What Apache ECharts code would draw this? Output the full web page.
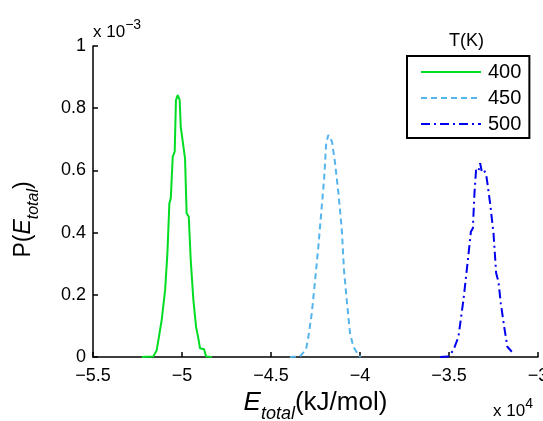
<!DOCTYPE html>
<html>
<head>
<meta charset="utf-8">
<script src="https://cdn.jsdelivr.net/npm/echarts@6/dist/echarts.min.js"></script>
<style>html,body{margin:0;padding:0;background:#fff;}#c{width:543px;height:421px;}</style>
</head>
<body>
<div id="c"></div>
<script>
// E_total in kJ/mol, P(E_total) in units of 10^-3
var e400 = [-52260,-51610,-51420,-51140,-50950,-50820,-50710,-50630,-50520,-50410,-50340,-50240,-50180,-50130,-50070,-49830,-49740,-49620,-49510,-49360,-49210,-49080,-48990,-48760,-48650,-48330];
var p400 = [0,0.002,0.022,0.119,0.215,0.333,0.494,0.510,0.644,0.660,0.826,0.842,0.848,0.826,0.740,0.639,0.462,0.451,0.312,0.183,0.097,0.060,0.028,0.025,0.002,0];
var e450 = [-43930,-43370,-43030,-42900,-42710,-42520,-42340,-42150,-42020,-41900,-41780,-41680,-41570,-41400,-41210,-41020,-40900,-40710,-40560,-40370,-40090,-39960];
var p450 = [0,0.002,0.025,0.065,0.140,0.248,0.355,0.483,0.569,0.687,0.714,0.719,0.692,0.623,0.526,0.408,0.280,0.162,0.076,0.033,0.006,0];
var e500 = [-35500,-35030,-34750,-34470,-34190,-33960,-33770,-33660,-33570,-33480,-33350,-33250,-33160,-33030,-32910,-32840,-32690,-32500,-32350,-32220,-32090,-31900,-31720,-31470];
var p500 = [0,0.002,0.022,0.065,0.183,0.301,0.403,0.414,0.526,0.601,0.596,0.623,0.596,0.601,0.585,0.558,0.494,0.398,0.269,0.242,0.173,0.097,0.033,0.017];
var temps = ['400','450','500'];
var xTicks = [-55000,-50000,-45000,-40000,-35000,-30000];
var yTicks = [0,0.2,0.4,0.6,0.8,1];

function pairs(xs, ys){ return xs.map(function(x,i){ return [x, ys[i]]; }); }
var FONT = 'Liberation Sans, Arial, sans-serif';
function minus(s){ return String(s).replace('-', '\u2212'); }

var chart = echarts.init(document.getElementById('c'), null, {renderer:'canvas'});
chart.setOption({
  animation: false,
  backgroundColor: '#fff',
  grid: {left: 93, right: 5, top: 46, bottom: 64, containLabel: false, outerBoundsMode: 'none'},
  xAxis: {
    type: 'value', min: xTicks[0], max: xTicks[xTicks.length-1], interval: 5000,
    axisLine: {show: true, lineStyle: {color: '#000', width: 1.5}},
    axisTick: {show: true, inside: true, length: 5, lineStyle: {color: '#000', width: 1.5}},
    splitLine: {show: false},
    axisLabel: {color: '#000', fontSize: 18, fontFamily: FONT, margin: 10, hideOverlap: false,
      formatter: function(v){ return minus(v/10000); }},
    name: '{e|E}{s|total}{n|(kJ/mol)}',
    nameLocation: 'middle', nameGap: 17,
    nameTextStyle: {
      fontFamily: FONT, color: '#000',
      rich: {
        e: {fontSize: 26, fontStyle: 'italic', fontFamily: FONT, color: '#000', lineHeight: 27, verticalAlign: 'top'},
        s: {fontSize: 18, fontStyle: 'italic', fontFamily: FONT, color: '#000', lineHeight: 18, padding: [15,0,0,0], verticalAlign: 'top'},
        n: {fontSize: 26, fontFamily: FONT, color: '#000', lineHeight: 27, verticalAlign: 'top'}
      }
    }
  },
  yAxis: {
    type: 'value', min: 0, max: 1, interval: 0.2,
    axisLine: {show: true, lineStyle: {color: '#000', width: 1.5}},
    axisTick: {show: true, inside: true, length: 5, lineStyle: {color: '#000', width: 1.5}},
    splitLine: {show: false},
    axisLabel: {color: '#000', fontSize: 18, fontFamily: FONT, margin: 7,
      formatter: function(v){ return String(Math.round(v*10)/10); }},
    name: '{n|P(}{e|E}{s|total}{n|)}',
    nameLocation: 'middle', nameGap: 56, nameRotate: 90,
    nameTextStyle: {
      fontFamily: FONT, color: '#000', padding: [0, 36, 0, 0],
      rich: {
        e: {fontSize: 23, fontStyle: 'italic', fontFamily: FONT, color: '#000', lineHeight: 25, verticalAlign: 'top'},
        s: {fontSize: 16, fontStyle: 'italic', fontFamily: FONT, color: '#000', lineHeight: 16, padding: [14,0,0,0], verticalAlign: 'top'},
        n: {fontSize: 23, fontFamily: FONT, color: '#000', lineHeight: 25, verticalAlign: 'top'}
      }
    }
  },
  legend: {
    orient: 'vertical', left: 407, top: 56,
    padding: [6, 8, 4, 13],
    itemWidth: 60, itemHeight: 14, itemGap: 6,
    itemStyle: {opacity: 0},
    borderColor: '#000', borderWidth: 2,
    backgroundColor: '#fff',
    textStyle: {color: '#000', fontSize: 20, fontFamily: FONT, lineHeight: 20, padding: [0,0,0,2]},
    data: temps
  },
  graphic: [
    {type: 'text', left: 449, top: 32, style: {text: 'T(K)', fontSize: 18, fontFamily: FONT, fill: '#000'}},
    {type: 'text', left: 93, top: 18, style: {
      text: '{t|x 10}{p|\u22123}', fontFamily: FONT, fill: '#000',
      rich: {
        t: {fontSize: 17, fontFamily: FONT, lineHeight: 18, verticalAlign: 'bottom'},
        p: {fontSize: 14, fontFamily: FONT, lineHeight: 14, padding: [0,0,9,0], verticalAlign: 'bottom'}
      }}},
    {type: 'text', left: 493, top: 397, style: {
      text: '{t|x 10}{p|4}', fontFamily: FONT, fill: '#000',
      rich: {
        t: {fontSize: 17, fontFamily: FONT, lineHeight: 18, verticalAlign: 'bottom'},
        p: {fontSize: 14, fontFamily: FONT, lineHeight: 14, padding: [0,0,9,0], verticalAlign: 'bottom'}
      }}}
  ],
  series: [
    {name: temps[0], type: 'line', data: pairs(e400, p400), showSymbol: false, symbol: 'none',
      lineStyle: {color: '#00dd22', width: 2, type: 'solid'}, itemStyle: {color: '#00dd22'}},
    {name: temps[1], type: 'line', data: pairs(e450, p450), showSymbol: false, symbol: 'none',
      lineStyle: {color: '#55b4ec', width: 2, type: [6,4]}, itemStyle: {color: '#55b4ec'}},
    {name: temps[2], type: 'line', data: pairs(e500, p500), showSymbol: false, symbol: 'none',
      lineStyle: {color: '#0000ee', width: 2, type: [9,4,2,4]}, itemStyle: {color: '#0000ee'}}
  ]
});
</script>
</body>
</html>
